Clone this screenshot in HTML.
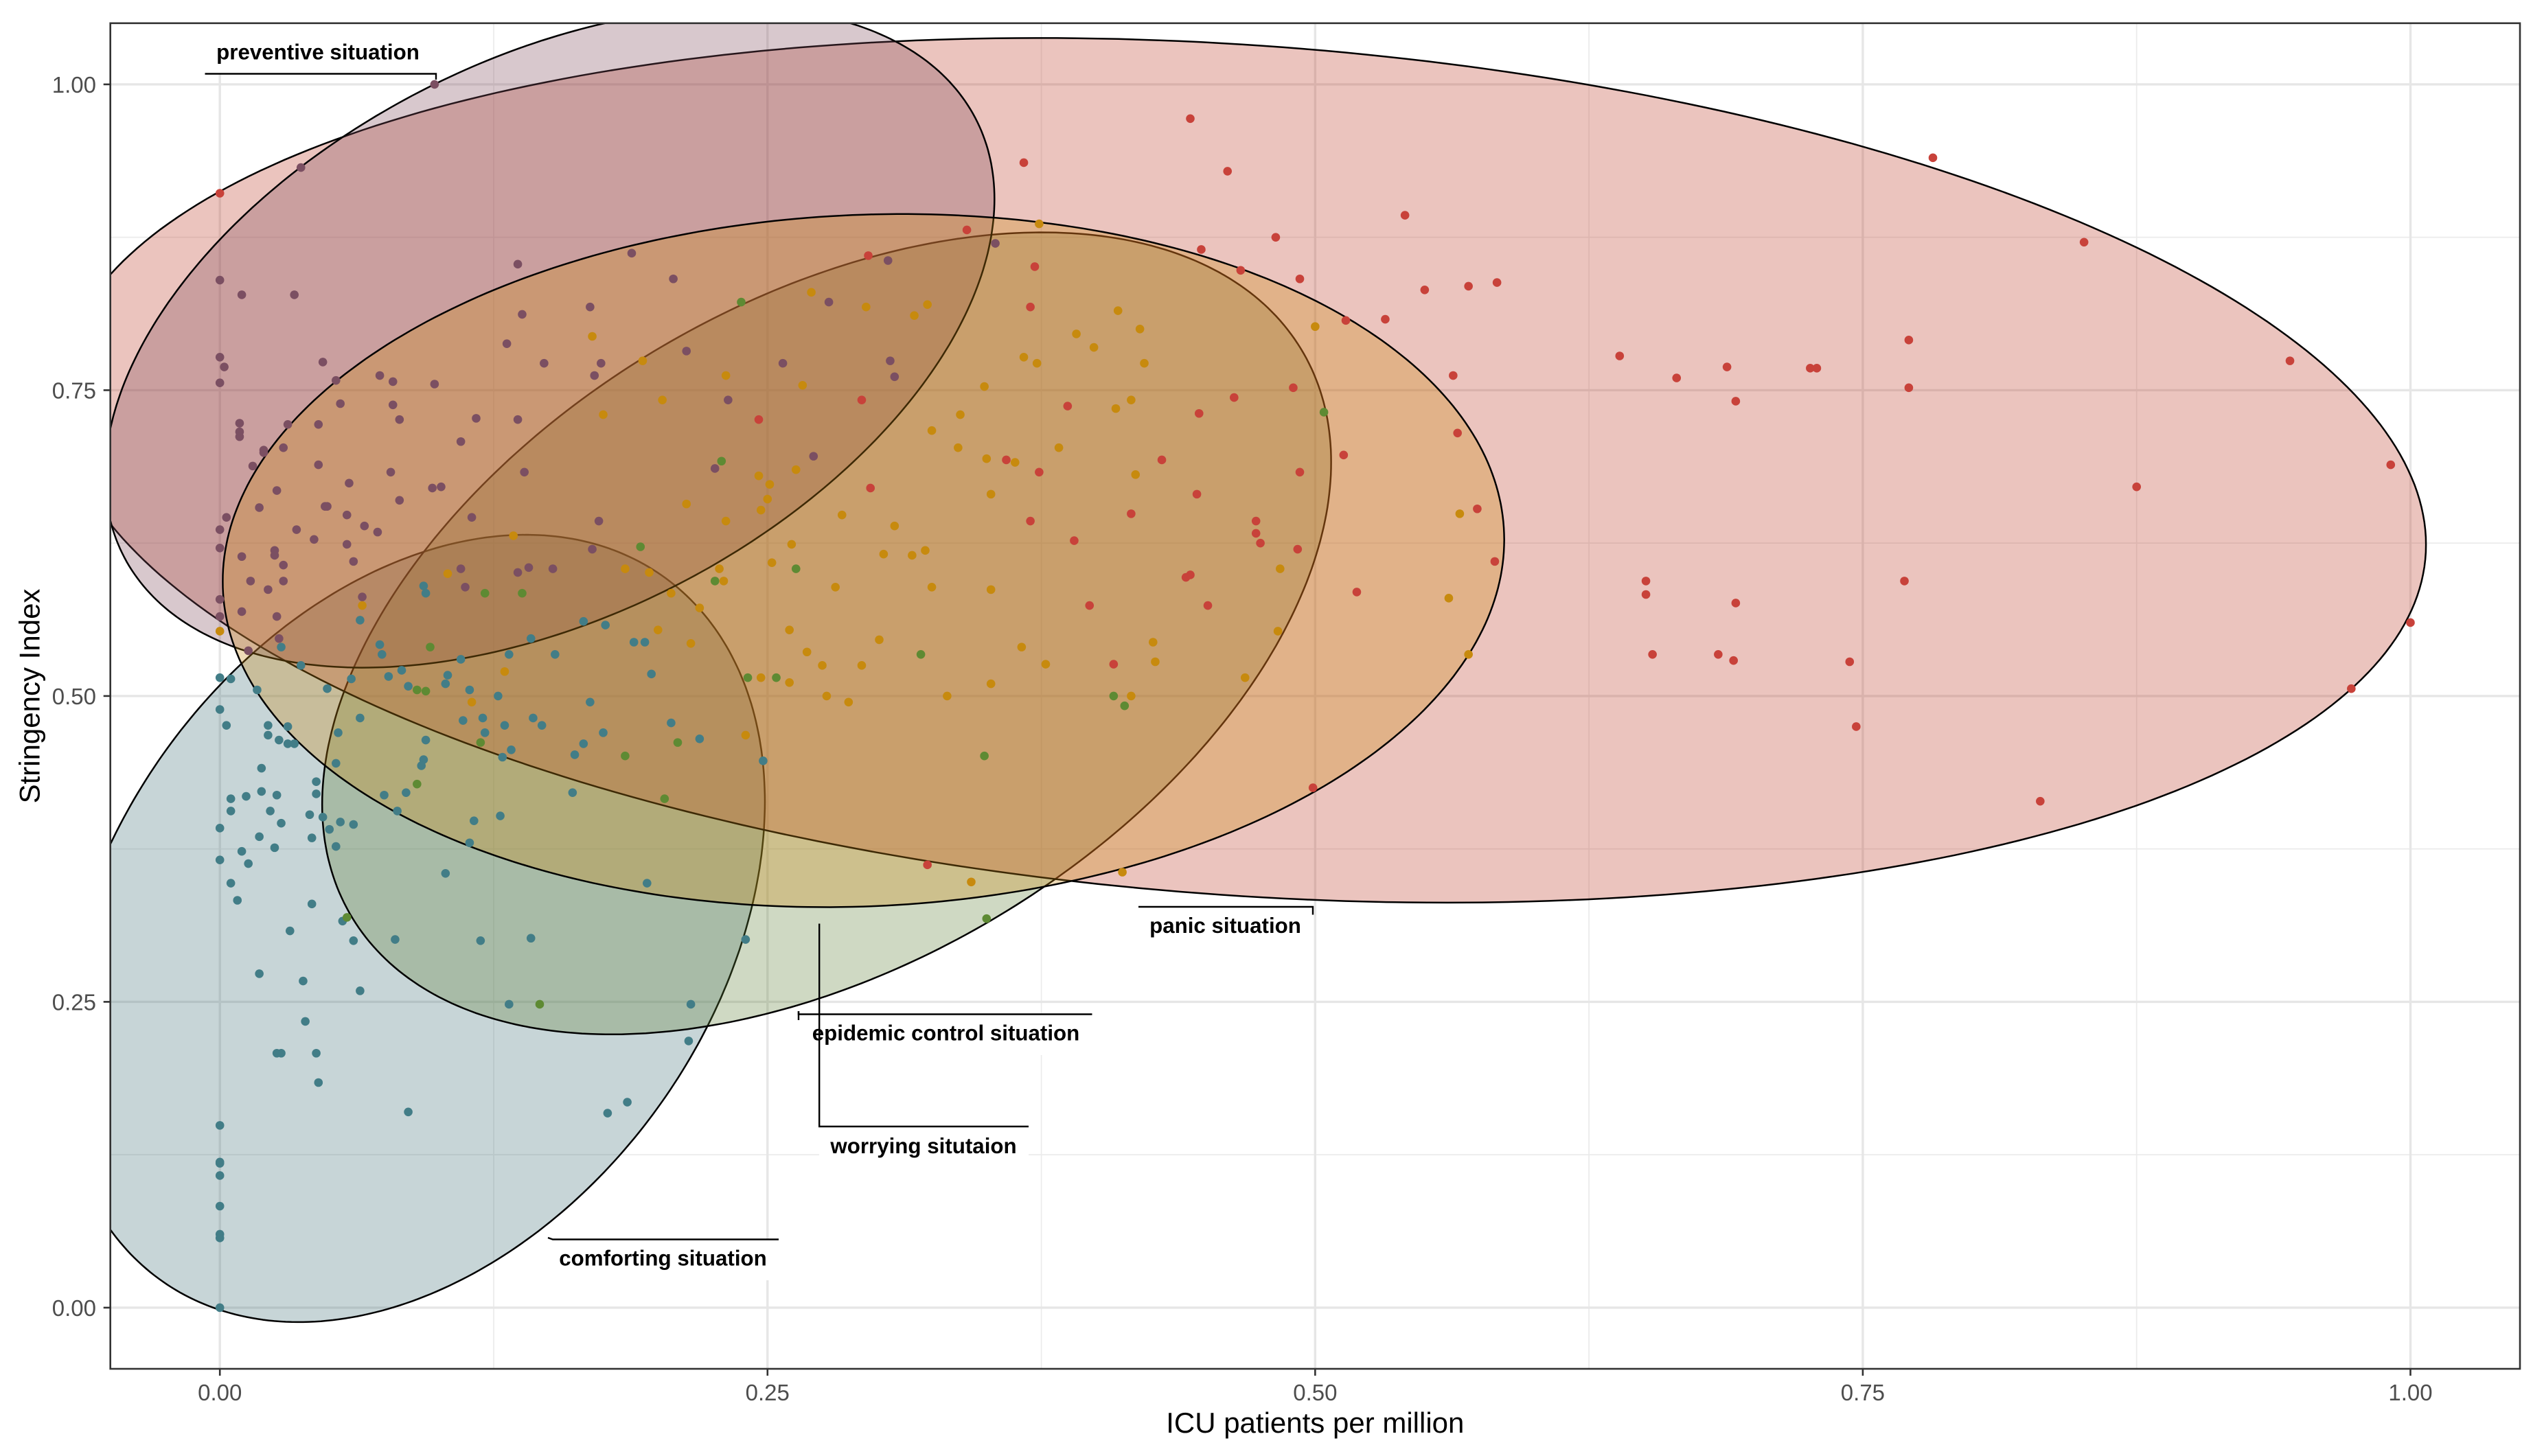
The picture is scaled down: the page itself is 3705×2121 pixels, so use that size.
<!DOCTYPE html>
<html lang="en">
<head>
<meta charset="utf-8">
<title>Stringency Index vs ICU patients per million</title>
<style>
  html, body { margin: 0; padding: 0; background: #ffffff; }
  svg { display: block; font-family: "Liberation Sans", Arial, sans-serif; }
</style>
</head>
<body>
<svg id="chart" xmlns="http://www.w3.org/2000/svg" width="3705" height="2121" viewBox="0 0 3705 2121">
  <defs>
    <clipPath id="panel-clip"><rect x="160.7" y="33.8" width="3509.3" height="1960.2"></rect></clipPath>
  </defs>
  <rect x="0" y="0" width="3705" height="2121" fill="#ffffff"></rect>
  <g id="grid"></g>
  <g id="ellipses" clip-path="url(#panel-clip)"></g>
  <g id="points" clip-path="url(#panel-clip)"></g>

  <g clip-path="url(#panel-clip)">
    <rect x="298" y="34" width="337" height="73.5" fill="#ffffff"></rect>
    <rect x="1658" y="1321" width="254" height="54" fill="#ffffff"></rect>
    <rect x="1163" y="1477.5" width="428" height="59.5" fill="#ffffff"></rect>
    <rect x="1193" y="1641" width="305" height="59" fill="#ffffff"></rect>
    <rect x="805" y="1805.5" width="329" height="59.5" fill="#ffffff"></rect>

    <polyline points="298.5,107.5 635,107.5 635,116" fill="none" stroke="#000" stroke-width="2.4"></polyline>
    <polyline points="1658,1321 1912,1321 1912,1332.5" fill="none" stroke="#000" stroke-width="2.4"></polyline>
    <polyline points="1163,1473 1163,1477.5 1590.5,1477.5" fill="none" stroke="#000" stroke-width="2.4"></polyline>
    <line x1="1163" y1="1473" x2="1163" y2="1486" stroke="#000" stroke-width="2.4"></line>
    <polyline points="1193.2,1345.5 1193.2,1641 1498,1641" fill="none" stroke="#000" stroke-width="2.4"></polyline>
    <polyline points="798,1803 805,1805.5 1134,1805.5" fill="none" stroke="#000" stroke-width="2.4"></polyline>

    <text x="463" y="86.5" font-size="31.3" font-weight="700" text-anchor="middle" fill="#000">preventive situation</text>
    <text x="1784.5" y="1359" font-size="31.3" font-weight="700" text-anchor="middle" fill="#000">panic situation</text>
    <text x="1377.5" y="1515.3" font-size="31.3" font-weight="700" text-anchor="middle" fill="#000">epidemic control situation</text>
    <text x="1345" y="1679.8" font-size="31.3" font-weight="700" text-anchor="middle" fill="#000">worrying situtaion</text>
    <text x="965.5" y="1843.5" font-size="31.3" font-weight="700" text-anchor="middle" fill="#000">comforting situation</text>
  </g>

  <rect x="160.7" y="33.8" width="3509.3" height="1960.2" fill="none" stroke="#333333" stroke-width="2.6"></rect>
  <g id="axes"></g>
  <text x="1915.3" y="2087" font-size="42" text-anchor="middle" fill="#000">ICU patients per million</text>
  <text transform="translate(57.4 1014) rotate(-90)" font-size="42" text-anchor="middle" fill="#000">Stringency Index</text>
</svg>

<script>
const xTickValues = [0, 0.25, 0.5, 0.75, 1];
const xTickLabels = ["0.00", "0.25", "0.50", "0.75", "1.00"];
const yTickValues = [0, 0.25, 0.5, 0.75, 1];
const yTickLabels = ["0.00", "0.25", "0.50", "0.75", "1.00"];
const minorBreaks = [0.125, 0.375, 0.625, 0.875];

const groupNames = ["comforting", "epidemic-control", "panic", "preventive", "worrying"];
const ellipseCentreX = [0.0878, 0.277, 0.4667, 0.1506, 0.2938];
const ellipseCentreY = [0.31, 0.5512, 0.6845, 0.793, 0.6107];
const ellipseHalfWidth = [0.161, 0.2303, 0.5404, 0.203, 0.2925];
const ellipseHalfHeight = [0.3218, 0.3278, 0.3534, 0.2698, 0.2833];
const ellipseCorrelation = [0.322, 0.427, -0.172, 0.42, 0.06];
const groupFills = ["#44737A", "#5F8037", "#BC3C29", "#7D4858", "#C98810"];
const groupPointColours = ["#427D87", "#5E8A33", "#C8423A", "#7B4F62", "#C78A0E"];

const comfortingPoints = [[.093,.590],[.094,.584],[.064,.562],[.028,.540],[.073,.542],[.074,.534],[.037,.525],[.060,.514],[.077,.516],[.083,.521],[.086,.508],[.049,.506],[.017,.505],[0,.515],[.005,.514],[.110,.530],[.104,.517],[.103,.510],[.132,.534],[.114,.505],[.127,.500],[.142,.547],[.153,.534],[.166,.561],[.176,.558],[.189,.544],[.194,.544],[.197,.518],[.169,.495],[0,.489],[.003,.476],[.022,.476],[.031,.475],[.064,.482],[.111,.480],[.120,.482],[.143,.482],[.147,.476],[.130,.476],[.206,.478],[.022,.468],[.027,.464],[.031,.461],[.034,.461],[.054,.470],[.053,.445],[.094,.464],[.093,.448],[.092,.443],[.121,.470],[.133,.456],[.129,.450],[.162,.452],[.166,.461],[.175,.470],[.161,.421],[.019,.441],[.044,.430],[.044,.420],[.005,.416],[.012,.418],[.019,.422],[.026,.419],[.005,.406],[.023,.406],[.041,.403],[.047,.401],[.075,.419],[.085,.421],[.081,.406],[.116,.398],[.128,.402],[0,.392],[.028,.396],[.050,.391],[.055,.397],[.061,.395],[.018,.385],[.042,.384],[.114,.380],[.025,.376],[.053,.377],[.010,.373],[0,.366],[.013,.363],[.005,.347],[.008,.333],[.103,.355],[.195,.347],[.042,.330],[.056,.316],[.032,.308],[.061,.300],[.080,.301],[.119,.300],[.142,.302],[.018,.273],[.038,.267],[.064,.259],[.132,.248],[.215,.248],[.039,.234],[.026,.208],[.028,.208],[.044,.208],[.045,.184],[.214,.218],[.086,.160],[.186,.168],[.177,.159],[0,.149],[0,.119],[0,.118],[0,.108],[0,.083],[0,.060],[0,.057],[0,0],[.219,.465],[.248,.447],[.240,.301]];
const epidemicPoints = [[.192,.622],[.121,.584],[.138,.584],[.096,.540],[.090,.505],[.094,.504],[.238,.822],[.229,.692],[.263,.604],[.226,.594],[.320,.534],[.241,.515],[.254,.515],[.408,.500],[.413,.492],[.504,.732],[.119,.462],[.185,.451],[.209,.462],[.090,.428],[.203,.416],[.058,.319],[.146,.248],[.349,.451],[.350,.318]];
const panicPoints = [[0,.911],[.367,.936],[.443,.972],[.460,.929],[.341,.881],[.296,.860],[.448,.865],[.482,.875],[.466,.848],[.493,.841],[.372,.851],[.370,.818],[.514,.807],[.293,.742],[.246,.726],[.387,.737],[.447,.731],[.463,.744],[.490,.752],[.359,.693],[.374,.683],[.430,.693],[.513,.697],[.493,.683],[.297,.670],[.446,.665],[.416,.649],[.370,.643],[.390,.627],[.473,.643],[.473,.633],[.475,.625],[.492,.620],[.441,.597],[.443,.599],[.519,.585],[.397,.574],[.451,.574],[.408,.526],[.323,.362],[.499,.425],[.782,.940],[.541,.893],[.851,.871],[.550,.832],[.570,.835],[.583,.838],[.532,.808],[.771,.791],[.639,.778],[.665,.760],[.688,.769],[.726,.768],[.729,.768],[.563,.762],[.771,.752],[.692,.741],[.945,.774],[.991,.689],[.565,.715],[.875,.671],[.574,.653],[.582,.610],[.651,.594],[.651,.583],[.769,.594],[.692,.576],[.654,.534],[.684,.534],[.691,.529],[.744,.528],[1.000,.560],[.973,.506],[.747,.475],[.831,.414]];
const preventivePoints = [[.098,1.000],[.037,.932],[0,.840],[.010,.828],[.034,.828],[.136,.853],[.188,.862],[.207,.841],[.169,.818],[.138,.812],[0,.777],[.002,.769],[0,.756],[.047,.773],[.053,.758],[.073,.762],[.079,.757],[.098,.755],[.131,.788],[.148,.772],[.174,.772],[.171,.762],[.213,.782],[.055,.739],[.079,.738],[.082,.726],[.117,.727],[.136,.726],[.009,.723],[.031,.722],[.045,.722],[.009,.716],[.009,.712],[.110,.708],[.020,.701],[.020,.699],[.029,.703],[.015,.688],[.045,.689],[.078,.683],[.139,.683],[.059,.674],[.097,.670],[.101,.671],[.026,.668],[.082,.660],[.018,.654],[.048,.655],[.049,.655],[.058,.648],[.003,.646],[.115,.646],[.173,.643],[.066,.639],[0,.636],[.035,.636],[.072,.634],[.043,.628],[.058,.624],[0,.621],[.025,.619],[.025,.615],[.010,.614],[.170,.620],[.029,.607],[.061,.610],[.110,.604],[.136,.601],[.141,.605],[.152,.604],[.014,.594],[.029,.594],[.022,.587],[.112,.589],[.065,.581],[0,.579],[.010,.569],[.026,.565],[0,.565],[.027,.547],[.013,.537],[.257,.772],[.232,.742],[.278,.822],[.305,.856],[.354,.870],[.306,.774],[.308,.761],[.271,.696],[.226,.686]];
const worryingPoints = [[.170,.794],[.193,.774],[.202,.742],[.175,.730],[.213,.657],[.134,.631],[.104,.600],[.185,.604],[.196,.601],[.206,.584],[.065,.574],[0,.553],[.200,.554],[.130,.520],[.115,.495],[.374,.886],[.270,.830],[.295,.818],[.317,.811],[.323,.820],[.410,.815],[.420,.800],[.391,.796],[.399,.785],[.367,.777],[.373,.772],[.422,.772],[.500,.802],[.231,.762],[.266,.754],[.349,.753],[.416,.742],[.409,.735],[.338,.730],[.325,.717],[.337,.703],[.383,.703],[.350,.694],[.363,.691],[.418,.681],[.246,.680],[.251,.673],[.263,.685],[.352,.665],[.250,.661],[.247,.652],[.231,.643],[.284,.648],[.308,.639],[.261,.624],[.252,.609],[.228,.604],[.230,.594],[.303,.616],[.316,.615],[.322,.619],[.281,.589],[.325,.589],[.352,.587],[.484,.604],[.483,.553],[.219,.572],[.215,.543],[.260,.554],[.301,.546],[.268,.536],[.275,.525],[.293,.525],[.247,.515],[.260,.511],[.366,.540],[.377,.526],[.426,.544],[.427,.528],[.468,.515],[.277,.500],[.287,.495],[.332,.500],[.352,.510],[.416,.500],[.240,.468],[.343,.348],[.412,.356],[.566,.649],[.561,.580],[.570,.534]];

const SVG_NS = "http://www.w3.org/2000/svg";
const PANEL_LEFT = 160.7, PANEL_RIGHT = 3670, PANEL_TOP = 33.8, PANEL_BOTTOM = 1994;
const X_MIN = -0.05, X_MAX = 1.05, Y_MIN = -0.05, Y_MAX = 1.05;

function xScale(v) { return PANEL_LEFT + (v - X_MIN) / (X_MAX - X_MIN) * (PANEL_RIGHT - PANEL_LEFT); }
function yScale(v) { return PANEL_BOTTOM - (v - Y_MIN) / (Y_MAX - Y_MIN) * (PANEL_BOTTOM - PANEL_TOP); }
function make(tag, parent, attrs) {
  const el = document.createElementNS(SVG_NS, tag);
  for (const k in attrs) el.setAttribute(k, attrs[k]);
  parent.appendChild(el);
  return el;
}

const gridGroup = document.getElementById("grid");
const axesGroup = document.getElementById("axes");
const ellipseGroup = document.getElementById("ellipses");
const pointGroup = document.getElementById("points");

minorBreaks.forEach(function (v) {
  const vLine = make("line", gridGroup, { x1: xScale(v), x2: xScale(v), y1: PANEL_TOP, y2: PANEL_BOTTOM, stroke: "#EBEBEB", "stroke-width": 1.7 });
  
  
  const hLine = make("line", gridGroup, { x1: PANEL_LEFT, x2: PANEL_RIGHT, y1: yScale(v), y2: yScale(v), stroke: "#EBEBEB", "stroke-width": 1.7 });
  
  
});

xTickValues.forEach(function (v, i) {
  const gridLine = make("line", gridGroup, { x1: xScale(v), x2: xScale(v), y1: PANEL_TOP, y2: PANEL_BOTTOM, stroke: "#E6E6E6", "stroke-width": 3.4 });
  
  
  const tick = make("line", axesGroup, { x1: xScale(v), x2: xScale(v), y1: PANEL_BOTTOM, y2: PANEL_BOTTOM + 10, stroke: "#333333", "stroke-width": 2.6 });
  
  
  const label = make("text", axesGroup, { x: xScale(v), y: 2040, "font-size": 33, "text-anchor": "middle", fill: "#4D4D4D" });
  
  
  label.textContent = xTickLabels[i];
});

yTickValues.forEach(function (v, i) {
  const gridLine = make("line", gridGroup, { x1: PANEL_LEFT, x2: PANEL_RIGHT, y1: yScale(v), y2: yScale(v), stroke: "#E6E6E6", "stroke-width": 3.4 });
  
  
  const tick = make("line", axesGroup, { x1: PANEL_LEFT - 10, x2: PANEL_LEFT, y1: yScale(v), y2: yScale(v), stroke: "#333333", "stroke-width": 2.6 });
  
  
  const label = make("text", axesGroup, { x: 140, y: yScale(v) + 12, "font-size": 33, "text-anchor": "end", fill: "#4D4D4D" });
  
  
  label.textContent = yTickLabels[i];
});

groupNames.forEach(function (name, g) {
  const theta = Math.acos(ellipseCorrelation[g]);
  let d = "";
  for (let k = 0; k < 360; k++) {
    const t = k / 360 * 2 * Math.PI;
    const px = xScale(ellipseCentreX[g] + ellipseHalfWidth[g] * Math.cos(t));
    const py = yScale(ellipseCentreY[g] + ellipseHalfHeight[g] * Math.cos(t - theta));
    d += (k === 0 ? "M" : "L") + px.toFixed(1) + " " + py.toFixed(1);
  }
  const ellipse = make("path", ellipseGroup, { d: d + "Z", fill: groupFills[g], "fill-opacity": 0.3, stroke: "#000000", "stroke-width": 2.5 });
  
  
});

const seriesPoints = [comfortingPoints, epidemicPoints, panicPoints, preventivePoints, worryingPoints];
seriesPoints.forEach(function (series, g) {
  series.forEach(function (pt) {
    const dot = make("circle", pointGroup, { cx: xScale(pt[0]), cy: yScale(pt[1]), r: 6.3, fill: groupPointColours[g] });
    
    
  });
});
</script>
</body>
</html>
